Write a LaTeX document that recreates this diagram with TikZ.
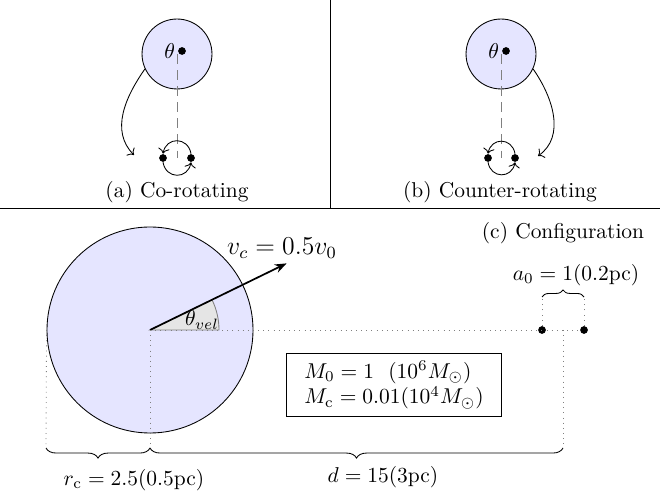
\documentclass[tikz,border=0pt]{standalone}
\usepackage{amsmath,amssymb}
\usepackage{xcolor}
\usepackage{tikz}
\usetikzlibrary{arrows.meta, positioning, calc, decorations.pathreplacing}

\begin{document}
\begin{tikzpicture}[x=0.466pt, y=0.466pt,
  cluster/.style={circle, draw, fill=blue!10, inner sep=0pt},
  bh/.style={circle, fill=black, inner sep=0pt, minimum size=3.6pt},
  guide/.style={gray, dotted},
  axisline/.style={gray, dash pattern=on 4.5pt off 3pt},
  orbit/.style={->, bend right=80, looseness=1.6},
  brc/.style={decorate, decoration={brace, amplitude=#1}}]
  \useasboundingbox (0,0) rectangle (660,493);

  % panel frame
  \draw (330,493) -- (330,285);
  \draw (0,285) -- (660,285);

  % Co-rotating
  \node[cluster, minimum size=32.6pt] (ca) at (177,439) {};
  \node[bh] (ha) at (182,442) {};
  \node[left=0pt of ha, inner sep=1pt] (ta) {$\theta$};
  \coordinate (ma) at (177,335);
  \draw[axisline] (ca.center) -- (ma);
  \node[bh] (la) at (163,335) {};
  \node[bh] (ra) at (191,335) {};
  \draw[orbit] (ra.north) to (la.north);
  \draw[orbit] (la.south) to (ra.south);
  \coordinate (ea) at (134,338);
  \draw[->] (ca.205) to[out=235, in=135] (ea);
  \node (capa) at (177,301) {(a) Co-rotating};

  % Counter-rotating
  \node[cluster, minimum size=32.6pt] (cb) at (501,439) {};
  \node[bh] (hb) at (506,442) {};
  \node[left=0pt of hb, inner sep=1pt] (tb) {$\theta$};
  \coordinate (mb) at (501,335);
  \draw[axisline] (cb.center) -- (mb);
  \node[bh] (lb) at (488,335) {};
  \node[bh] (rb) at (515,335) {};
  \draw[orbit] (rb.north) to (lb.north);
  \draw[orbit] (lb.south) to (rb.south);
  \coordinate (eb) at (538,337);
  \draw[->] (cb.-25) to[out=-55, in=35] (eb);
  \node (capb) at (500,301) {(b) Counter-rotating};

  % Configuration
  \node[cluster, minimum size=96pt] (core) at (150,163) {};
  \node[bh] (s1) at (542,163) {};
  \node[bh] (s2) at (584,163) {};
  \draw[guide] (core.center) -- (s2);
  \filldraw[fill=gray!20, draw=gray] (core.center) -- ++(69,0)
    arc[start angle=0, end angle=26, radius=69] -- cycle;
  \coordinate (vtip) at ($(core.center)+(26:152)$);
  \draw[-{Stealth[length=5.5pt]}, thick] (core.center) -- (vtip);
  \node[font=\large] (vlab) at (282,245) {$v_c = 0.5v_0$};
  \node (tvel) at (202,173) {$\theta_{vel}$};

  % separation of the pair
  \coordinate (mid) at (563,163);
  \coordinate (s1up) at (542,196);
  \coordinate (s2up) at (584,196);
  \draw[guide] (s1) -- (s1up);
  \draw[guide] (s2) -- (s2up);
  \draw[brc=3.3pt] (s1up) -- (s2up);
  \node (alab) at (576,218) {$a_0 = 1(0.2\mathrm{pc})$};

  % radii
  \coordinate (rl) at (46,45);
  \coordinate (rc) at (150,45);
  \coordinate (dm) at (563,45);
  \draw[guide] (core.west) -- (rl);
  \draw[guide] (core.center) -- (rc);
  \draw[guide] (mid) -- (dm);
  \draw[brc=4.7pt] (rc) -- (rl);
  \draw[brc=4.7pt] (dm) -- (rc);
  \node (rlab) at (134,13) {$r_{\mathrm{c}} = 2.5(0.5\mathrm{pc})$};
  \node (dlab) at (383,16) {$d = 15(3\mathrm{pc})$};

  \node[draw, align=left, minimum width=100pt, minimum height=25.6pt] (mass) at (394,108)
    {$M_0 = 1\ \ (10^6 M_\odot)$\\ $M_{\mathrm{c}} = 0.01(10^4 M_\odot)$};
  \node (capc) at (563,260) {(c) Configuration};
\end{tikzpicture}
\end{document}
